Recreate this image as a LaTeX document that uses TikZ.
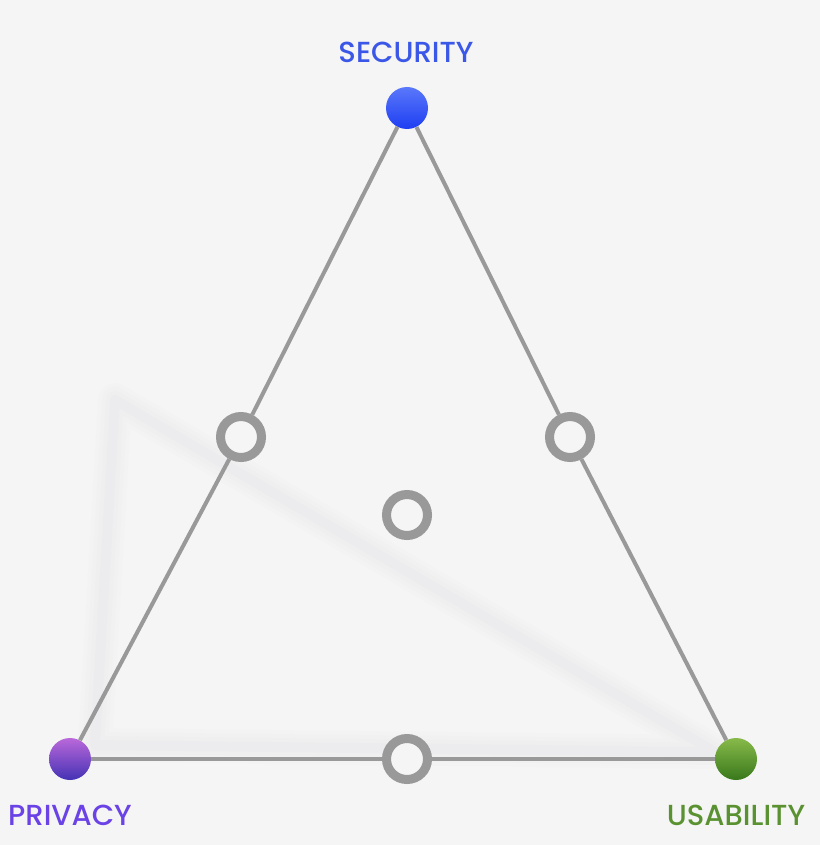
\documentclass[tikz,border=0pt]{standalone}
\usepackage{fontspec}
\setmainfont{Poppins Medium}
\definecolor{bg}{HTML}{F5F5F5}
\definecolor{edgegray}{HTML}{999999}
\definecolor{shadow}{HTML}{D6D6DE}
\definecolor{secblue}{HTML}{3B57E8}
\definecolor{privviolet}{HTML}{6A42E6}
\definecolor{usagreen}{HTML}{5A9232}
\definecolor{sectop}{HTML}{5A78FA}
\definecolor{secbot}{HTML}{1E3EF2}
\definecolor{privtop}{HTML}{BA68DA}
\definecolor{privbot}{HTML}{4432B4}
\definecolor{usatop}{HTML}{88BA4A}
\definecolor{usabot}{HTML}{38781C}

\begin{document}
\begin{tikzpicture}[x=1pt,y=-1pt,
    edge/.style={draw=edgegray,line width=4pt},
    ring/.style={circle,draw=edgegray,line width=9pt,fill=bg,minimum size=41pt,inner sep=0pt},
    dot/.style={circle,minimum size=42pt,inner sep=0pt},
    lbl/.style={anchor=base,font=\fontsize{29}{32}\selectfont}]
      \fill[bg] (0,0) rectangle (820,845);
      \useasboundingbox (0,0) rectangle (820,845);

      % soft shadow behind the triangle
      \foreach \w/\o in {34/0.04,26/0.05,18/0.07,10/0.09} {
        \draw[line width=\w pt,line join=round,color=shadow,opacity=\o] (115,400) -- (95,745) -- (715,752) -- cycle;
      }

      \node[dot,top color=sectop,bottom color=secbot] (sec) at (407,108) {};
      \node[dot,top color=privtop,bottom color=privbot] (priv) at (70,759) {};
      \node[dot,top color=usatop,bottom color=usabot] (usa) at (736,759) {};

      \node[ring] (secpriv) at (241,437) {};
      \node[ring] (secusa) at (570,437) {};
      \node[ring] (privusa) at (407,759) {};
      \node[ring] (mid) at (407,515) {};

      \draw[edge] (sec) -- (secpriv) -- (priv);
      \draw[edge] (sec) -- (secusa) -- (usa);
      \draw[edge] (priv) -- (privusa) -- (usa);

      \node[lbl,text=secblue] (seclbl) at (406,63) {SECURITY};
      \node[lbl,text=privviolet] (privlbl) at (70,825) {PRIVACY};
      \node[lbl,text=usagreen] (usalbl) at (736,825) {USABILITY};

    \end{tikzpicture}
\end{document}
